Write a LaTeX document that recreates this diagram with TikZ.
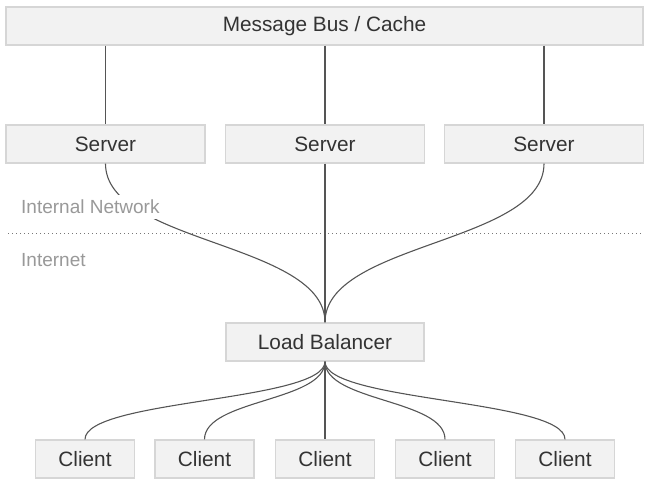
\documentclass[tikz,border=0pt]{standalone}
\usepackage{fontspec}
\setmainfont{Liberation Sans}
\definecolor{boxfill}{HTML}{F2F2F2}
\definecolor{boxline}{HTML}{D6D6D6}
\definecolor{txt}{HTML}{333333}
\definecolor{lbl}{HTML}{999999}
\definecolor{conn}{HTML}{555555}
\begin{document}
\begin{tikzpicture}[x=1pt,y=-1pt,
  box/.style={draw=boxline,fill=boxfill,line width=1.3pt,minimum height=38pt,inner sep=0pt,text=txt,font=\fontsize{20.8}{24}\selectfont},
  wire/.style={draw=conn,line width=1.1pt},
  zone/.style={text=lbl,font=\fontsize{19}{22}\selectfont,anchor=west,fill=white,inner xsep=2pt,inner ysep=5pt}]
\useasboundingbox (0,0) rectangle (651,486);
\node[box,minimum width=637pt] (bus) at (324.5,26) {Message Bus / Cache};
\node[box,minimum width=199pt] (s1) at (105.5,144) {Server};
\node[box,minimum width=199pt] (s2) at (325,144) {Server};
\node[box,minimum width=199pt] (s3) at (544,144) {Server};
\node[box,minimum width=198pt] (lb) at (325,342) {Load Balancer};
\node[box,minimum width=99pt] (c1) at (85,459) {Client};
\node[box,minimum width=99pt] (c2) at (204.5,459) {Client};
\node[box,minimum width=99pt] (c3) at (325,459) {Client};
\node[box,minimum width=99pt] (c4) at (445,459) {Client};
\node[box,minimum width=99pt] (c5) at (565,459) {Client};
\coordinate (dl) at (8,234);
\coordinate (dr) at (641,234);
\draw[draw=conn!80,line width=1pt,dash pattern=on 1pt off 3pt] (dl) -- (dr);
\draw[wire] (bus.south -| s1) -- (s1.north);
\draw[wire] (bus.south -| s2) -- (s2.north);
\draw[wire] (bus.south -| s3) -- (s3.north);
\draw[wire] (s1.south) .. controls +(0,80) and +(0,-80) .. (lb.north);
\draw[wire] (s2.south) -- (lb.north);
\draw[wire] (s3.south) .. controls +(0,80) and +(0,-80) .. (lb.north);
\foreach \c in {c1,c2,c3,c4,c5}
  \draw[wire] (lb.south) .. controls +(0,40) and +(0,-40) .. (\c.north);
\node[zone] (inet) at (19,207) {Internal Network};
\node[zone] (www) at (19,260) {Internet};
\end{tikzpicture}
\end{document}
